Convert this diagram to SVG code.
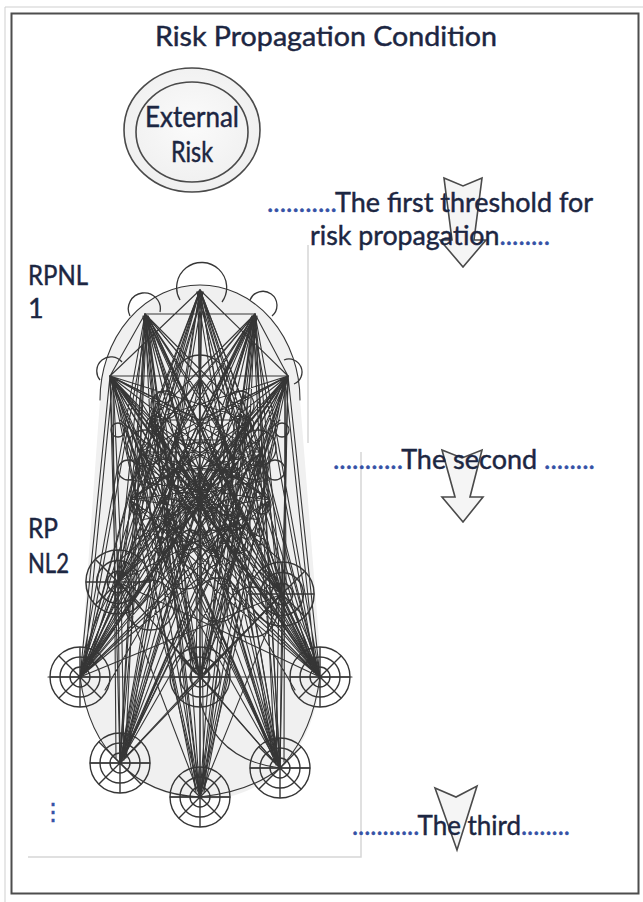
<svg xmlns="http://www.w3.org/2000/svg" xmlns:xlink="http://www.w3.org/1999/xlink" width="643" height="902" viewBox="0 0 643 902">
  <style>
    .lbl { font-family: Lato, "Open Sans", "DejaVu Sans", sans-serif; fill: #1c2642; stroke: #1c2642; stroke-width: 0.45; }
    .dots { fill: #3552a6; stroke: #3552a6; }
    .net { fill: none; stroke: #363636; stroke-width: 1.1; stroke-linecap: round; }
    .loop { fill: none; stroke: #363636; stroke-width: 1.3; }
    .arrow { fill: #f3f3f3; fill-opacity: 0.85; stroke: #4a4a4a; stroke-width: 1.6; stroke-linejoin: miter; }
    .shadow { stroke: #d6d6d6; stroke-width: 1.5; fill: none; }
  </style>
  <defs>
    <radialGradient id="disc" cx="50%" cy="45%" r="60%">
      <stop offset="0" stop-color="#fbfbfb"/>
      <stop offset="1" stop-color="#eeeeee"/>
    </radialGradient>
    <!-- wheel-shaped network node -->
    <g id="wheel" fill="none" stroke="#363636" stroke-width="1.4">
      <circle r="30"/>
      <circle r="20"/>
      <circle r="10"/>
      <path d="M-30 0H30M0 -30V30M-21 -21L21 21M-21 21L21 -21"/>
    </g>
  </defs>

  <rect width="643" height="902" fill="#ffffff"/>
  <!-- outer frame -->
  <path d="M5 902V7H643" fill="none" stroke="#cfcfcf" stroke-width="1"/>
  <rect x="11.5" y="13.5" width="627" height="880" fill="none" stroke="#4d4d4d" stroke-width="2"/>

  <text class="lbl" x="155" y="46" font-size="27" textLength="342" lengthAdjust="spacingAndGlyphs" fill="#1a1a26">Risk Propagation Condition</text>

  <!-- external risk source -->
  <g id="external-risk">
    <ellipse cx="192" cy="130" rx="68" ry="62" fill="url(#disc)" stroke="#4a4a4a" stroke-width="1.6"/>
    <ellipse cx="192" cy="132" rx="56" ry="50" fill="none" stroke="#4a4a4a" stroke-width="1.6"/>
    <text class="lbl" x="192" y="127" font-size="28" text-anchor="middle" textLength="94" lengthAdjust="spacingAndGlyphs">External</text>
    <text class="lbl" x="192" y="162" font-size="28" text-anchor="middle" textLength="42" lengthAdjust="spacingAndGlyphs">Risk</text>
  </g>

  <!-- picture frame edges -->
  <path class="shadow" d="M308 245V443M361 452V857H28"/>

  <!-- network background -->
  <path d="M100 400A100 115 0 0 1 300 400L322 677Q312 742 280 770Q245 800 200 800Q150 795 120 765Q85 730 80 677Z" fill="#f0f0f0"/>
  <path class="net" stroke-width="1.4" d="M100 400A100 115 0 0 1 300 400"/>

  <g id="connectors">
    <!-- top layer to bottom layer -->
    <path class="net" d="M200 290L80 677M203 292L86 672M200 290L200 677M202 292L196 672M200 290L320 677M198 292L314 672M200 290L120 763M203 292L126 758M200 290L200 797M198 292L204 792M200 290L280 768M197 292L274 762
    M145 314L80 677M148 316L84 672M145 314L200 677M147 316L194 672M145 314L320 677M148 316L314 673M145 314L120 763M147 316L125 758M145 314L200 797M143 316L196 792M145 314L280 768M148 316L276 762
    M255 314L80 677M252 316L86 673M255 314L200 677M253 316L206 672M255 314L320 677M252 316L316 672M255 314L120 763M253 316L124 758M255 314L200 797M257 316L204 792M255 314L280 768M253 316L275 762
    M110 376L80 677M113 378L84 672M110 376L200 677M113 378L195 672M110 376L320 677M113 378L315 672M110 376L120 763M113 378L116 758M110 376L200 797M113 378L196 792M110 376L280 768M113 378L275 762
    M288 376L80 677M285 378L85 672M288 376L200 677M285 378L205 672M288 376L320 677M285 378L316 672M288 376L120 763M285 378L124 758M288 376L200 797M285 378L204 792M288 376L280 768M285 378L284 762
    M200 378L80 677M200 378L320 677M200 378L120 763M200 378L280 768M200 378L200 797
    M110 376L310 660M110 376L300 650M110 376L295 690M288 376L90 660M288 376L100 650M288 376L105 690"/>
    <!-- top layer to second layer wheels -->
    <path class="net" d="M200 290L118 582M200 290L282 594M145 314L118 582M145 314L282 594M255 314L118 582M255 314L282 594M110 376L118 582M110 376L282 594M288 376L118 582M288 376L282 594M200 378L118 582M200 378L282 594
    M203 292L122 577M197 292L278 589M148 316L123 578M148 316L278 590M252 316L122 578M252 316L278 590M113 378L122 578M113 378L278 590M285 378L122 578M285 378L286 589"/>
    <!-- second layer wheels to bottom layer -->
    <path class="net" d="M118 582L80 677M118 582L200 677M118 582L320 677M118 582L120 763M118 582L200 797M118 582L280 768
    M282 594L80 677M282 594L200 677M282 594L320 677M282 594L120 763M282 594L200 797M282 594L280 768
    M121 584L84 674M121 584L196 674M121 584L124 760M279 596L316 674M279 596L204 674M279 596L276 765"/>
    <!-- dense second layer -->
    <path class="net" d="M140 452L200 290M140 452L145 314M140 452L255 314M140 452L110 376M140 452L288 376M140 452L200 378
    M140 452L80 677M140 452L200 677M140 452L320 677M140 452L120 763M140 452L200 797M140 452L280 768
    M262 452L200 290M262 452L145 314M262 452L255 314M262 452L110 376M262 452L288 376M262 452L200 378
    M262 452L80 677M262 452L200 677M262 452L320 677M262 452L120 763M262 452L200 797M262 452L280 768
    M200 470L145 314M200 470L255 314M200 470L110 376M200 470L288 376M200 470L80 677M200 470L320 677M200 470L120 763M200 470L280 768
    M165 520L200 290M165 520L145 314M165 520L255 314M165 520L110 376M165 520L288 376M165 520L80 677M165 520L200 677M165 520L320 677M165 520L120 763M165 520L280 768M165 520L200 797
    M238 520L200 290M238 520L145 314M238 520L255 314M238 520L110 376M238 520L288 376M238 520L80 677M238 520L200 677M238 520L320 677M238 520L120 763M238 520L280 768M238 520L200 797
    M140 452L262 452M140 452L238 520M262 452L165 520M140 452L118 582M262 452L282 594M165 520L282 594M238 520L118 582M140 452L282 594M262 452L118 582M200 470L118 582M200 470L282 594
    M155 430L250 560M245 430L150 560M130 480L270 500M130 500L270 480M150 410L230 600M250 410L170 600M125 430L180 560M275 430L220 560M160 470L240 470M170 440L230 540M230 440L170 540"/>
    <path class="net" d="M150 420L200 290M150 420L145 314M150 420L255 314M150 420L288 376M150 420L80 677M150 420L200 677M150 420L320 677M150 420L120 763M150 420L280 768
    M250 420L200 290M250 420L145 314M250 420L255 314M250 420L110 376M250 420L80 677M250 420L200 677M250 420L320 677M250 420L120 763M250 420L280 768
    M175 440L145 314M175 440L255 314M175 440L288 376M175 440L80 677M175 440L320 677M175 440L200 797M175 440L280 768
    M225 440L145 314M225 440L255 314M225 440L110 376M225 440L80 677M225 440L320 677M225 440L200 797M225 440L120 763
    M130 500L200 290M130 500L255 314M130 500L288 376M130 500L200 677M130 500L320 677M130 500L280 768M130 500L200 797
    M270 500L200 290M270 500L145 314M270 500L110 376M270 500L200 677M270 500L80 677M270 500L120 763M270 500L200 797
    M180 560L145 314M180 560L255 314M180 560L288 376M180 560L110 376M180 560L80 677M180 560L320 677M180 560L280 768
    M220 560L145 314M220 560L255 314M220 560L110 376M220 560L288 376M220 560L80 677M220 560L320 677M220 560L120 763
    M200 420L110 376M200 420L288 376M200 420L80 677M200 420L320 677M200 420L120 763M200 420L280 768
    M150 420L250 420M150 420L270 500M250 420L130 500M175 440L270 500M225 440L130 500M130 500L220 560M270 500L180 560M150 420L220 560M250 420L180 560M175 440L225 440
    M140 400L260 600M260 400L140 600M135 460L265 540M265 460L135 540M155 395L245 585M245 395L155 585M120 420L280 560M280 420L120 560"/>
    <!-- short crossings in the densest band -->
    <path class="net" d="M135 430L195 520M265 430L205 520M140 470L200 560M260 470L200 560M150 440L150 540M250 440L250 540M165 420L185 560M235 420L215 560
    M145 480L255 455M145 455L255 480M140 520L260 500M140 500L260 520M160 400L140 480M240 400L260 480M175 470L160 545M225 470L240 545
    M190 410L150 500M210 410L250 500M185 500L225 430M215 500L175 430M155 455L245 535M245 455L155 535M128 445L172 575M272 445L228 575"/>
    <!-- edges inside the layers -->
    <path class="net" stroke-width="1.4" d="M110 376H288M200 290V797M145 314L110 376M255 314L288 376M145 314L200 378M255 314L200 378M200 290L110 376M200 290L288 376M145 314L255 314
    M48 677H352M120 763L200 677M200 677L280 768M90 763H150M170 797H230M250 768H310"/>
    <path class="net" stroke-width="1.4" d="M80 677Q88 735 120 763M120 763Q150 795 200 797M200 797Q250 792 280 768M280 768Q312 735 320 677M200 700Q215 760 280 768M118 582Q90 620 80 677M282 594Q310 630 320 677"/>
    <!-- self loops -->
    <path class="loop" d="M180 300A25 25 0 1 1 222 302M130 316A16 16 0 1 1 160 312M250 300A14 14 0 1 1 272 316M100 380A13 13 0 1 1 122 362M284 360A13 13 0 1 1 294 384M173 382A27 27 0 0 1 227 382"/>
    <g class="loop" stroke-width="1">
      <circle cx="145" cy="448" r="18"/>
      <circle cx="258" cy="448" r="18"/>
      <circle cx="200" cy="462" r="20"/>
      <circle cx="170" cy="515" r="16"/>
      <circle cx="232" cy="515" r="16"/>
      <circle cx="128" cy="470" r="10"/>
      <circle cx="275" cy="470" r="10"/>
      <circle cx="165" cy="405" r="14"/>
      <circle cx="240" cy="405" r="14"/>
      <circle cx="200" cy="520" r="15"/>
      <circle cx="185" cy="565" r="24"/>
      <circle cx="218" cy="600" r="22"/>
      <circle cx="150" cy="605" r="25"/>
      <circle cx="252" cy="612" r="25"/>
      <circle cx="155" cy="425" r="9"/>
      <circle cx="245" cy="425" r="9"/>
      <circle cx="178" cy="480" r="11"/>
      <circle cx="222" cy="480" r="11"/>
      <circle cx="138" cy="505" r="9"/>
      <circle cx="262" cy="505" r="9"/>
      <circle cx="190" cy="540" r="10"/>
      <circle cx="212" cy="540" r="10"/>
      <circle cx="118" cy="430" r="7"/>
      <circle cx="282" cy="430" r="7"/>
      <circle cx="160" cy="545" r="8"/>
      <circle cx="240" cy="545" r="8"/>
    </g>
  </g>

  <!-- nodes -->
  <g id="node-rpnl2-left"><use xlink:href="#wheel" transform="translate(118 582) scale(1.07)"/></g>
  <g id="node-rpnl2-right"><use xlink:href="#wheel" transform="translate(282 594) scale(1.07)"/></g>
  <g id="node-b1"><use xlink:href="#wheel" transform="translate(80 677)"/></g>
  <g id="node-b2"><use xlink:href="#wheel" transform="translate(200 677)"/></g>
  <g id="node-b3"><use xlink:href="#wheel" transform="translate(320 677)"/></g>
  <g id="node-b4"><use xlink:href="#wheel" transform="translate(120 763)"/></g>
  <g id="node-b5"><use xlink:href="#wheel" transform="translate(200 797)"/></g>
  <g id="node-b6"><use xlink:href="#wheel" transform="translate(280 768)"/></g>

  <!-- threshold arrows -->
  <g id="threshold-1"><path class="arrow" d="M444 178L463 186L482 178L474 240L486 240L463 267L440 240L452 240Z"/></g>
  <g id="threshold-2"><path class="arrow" d="M442 450L462 458L482 450L470 497L483 497L463 522L442 497L455 497Z"/></g>
  <g id="threshold-3"><path class="arrow" d="M435 788L456 797L477 786L457 850Z"/></g>

  <!-- labels -->
  <text class="lbl" x="267" y="212" font-size="27" textLength="326" lengthAdjust="spacingAndGlyphs"><tspan class="dots">...........</tspan>The first threshold for</text>
  <text class="lbl" x="310" y="245" font-size="27" textLength="240" lengthAdjust="spacingAndGlyphs">risk propagation<tspan class="dots">........</tspan></text>
  <text class="lbl" x="333" y="469" font-size="27" textLength="262" lengthAdjust="spacingAndGlyphs"><tspan class="dots">...........</tspan>The second <tspan class="dots">........</tspan></text>
  <text class="lbl" x="352" y="835" font-size="27" textLength="218" lengthAdjust="spacingAndGlyphs"><tspan class="dots">...........</tspan>The third<tspan class="dots">........</tspan></text>

  <text class="lbl" x="28" y="285" font-size="27" textLength="60" lengthAdjust="spacingAndGlyphs">RPNL</text>
  <text class="lbl" x="28" y="318" font-size="27">1</text>
  <text class="lbl" x="28" y="538" font-size="27" textLength="30" lengthAdjust="spacingAndGlyphs">RP</text>
  <text class="lbl" x="28" y="573" font-size="27" textLength="41" lengthAdjust="spacingAndGlyphs">NL2</text>
  <text class="lbl dots" x="53" y="820" font-size="24" text-anchor="middle">⋮</text>
</svg>
